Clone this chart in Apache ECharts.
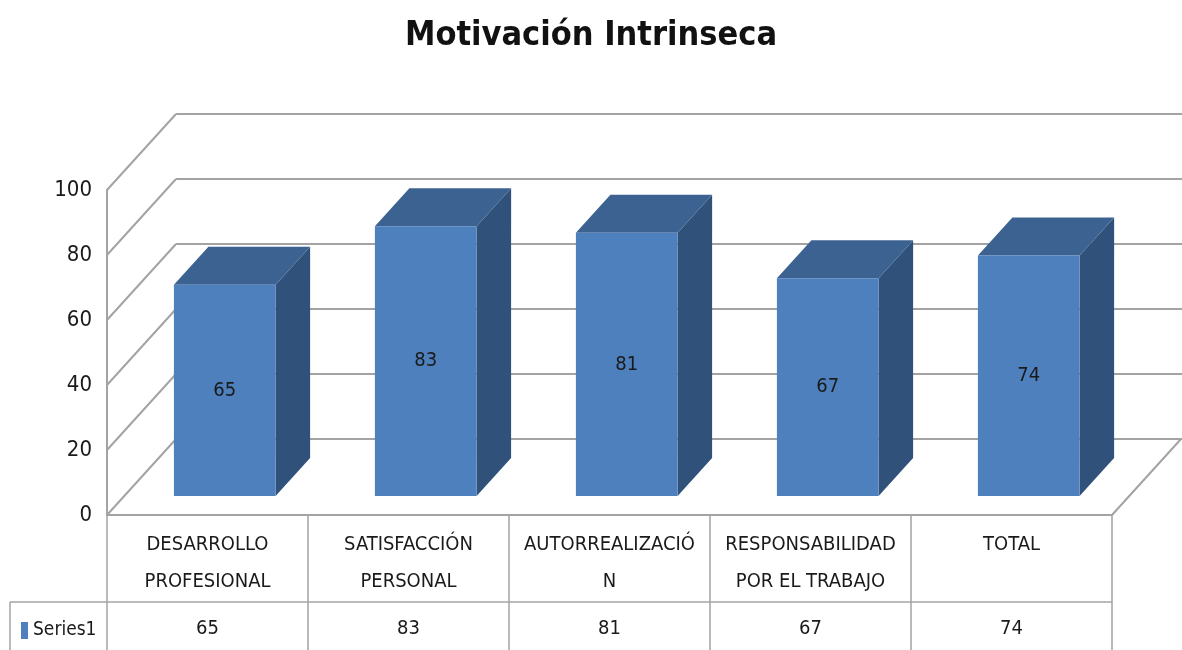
<!DOCTYPE html>
<html>
<head>
<meta charset="utf-8">
<script src="https://cdn.jsdelivr.net/npm/echarts@6/dist/echarts.min.js"></script>
<style>
  html, body { margin: 0; padding: 0; background: #fff; }
  #chart { width: 1182px; height: 650px; }
</style>
</head>
<body>
<div id="chart"></div>
<script>
// datos del grafico
const categories = ['DESARROLLO\nPROFESIONAL', 'SATISFACCIÓN\nPERSONAL', 'AUTORREALIZACIÓ\nN', 'RESPONSABILIDAD\nPOR EL TRABAJO', 'TOTAL'];
const values = [65, 83, 81, 67, 74];
const yTicks = [0, 20, 40, 60, 80, 100];
const seriesName = 'Series1';

const FONT = '"Liberation Sans Narrow", "DejaVu Sans Condensed", sans-serif';
const GRID_COLOR = '#a3a3a3';
// vector de profundidad (pared trasera)
const DEPTH = [69, -76];

let chart = echarts.init(document.getElementById('chart'));

// paredes y lineas de division en perspectiva
function renderWalls(params, api) {
  const cs = params.coordSys;
  const x0 = cs.x, x1 = cs.x + cs.width;
  const children = [];
  const line = (a, b) => children.push({
    type: 'polyline',
    shape: { points: [a, b] },
    style: { stroke: GRID_COLOR, lineWidth: 2, fill: null }
  });
  yTicks.forEach(function (v) {
    const y = api.coord([0, v])[1];
    const bx = x0 + DEPTH[0], by = y + DEPTH[1];
    line([x0, y], [bx, by]);
    line([bx, by], [1182, by]);
  });
  const y0 = api.coord([0, 0])[1];
  line([x1, y0], [x1 + DEPTH[0], y0 + DEPTH[1]]);
  return { type: 'group', children: children };
}

// barras 3D
function renderBar(params, api) {
  const idx = api.value(0);
  const val = api.value(1);
  const base = api.coord([idx, 0]);
  const top = api.coord([idx, val]);
  const band = api.size([1, 0])[0];
  const w = band * 0.506;
  const fx = DEPTH[0] * 0.25, fy = DEPTH[1] * 0.25;
  const dx = DEPTH[0] * 0.5, dy = DEPTH[1] * 0.5;
  const L = base[0] + fx - w / 2, R = L + w;
  const T = top[1] + fy, B = base[1] + fy;
  return {
    type: 'group',
    children: [
      { type: 'polygon', shape: { points: [[R, T], [R + dx, T + dy], [R + dx, B + dy], [R, B]] },
        style: { fill: '#30527a' } },
      { type: 'polygon', shape: { points: [[L, T], [R, T], [R + dx, T + dy], [L + dx, T + dy]] },
        style: { fill: '#3c6291' } },
      { type: 'rect', shape: { x: L, y: T, width: w, height: B - T },
        style: { fill: '#4e80bd' } },
      { type: 'text', x: (L + R) / 2, y: (T + B) / 2,
        style: { text: String(val), fill: '#1a1a1a', font: '20px ' + FONT, align: 'center', verticalAlign: 'middle' } }
    ]
  };
}

let option = {
  animation: false,
  color: ['#4e80bd'],
  title: {
    text: 'Motivación Intrinseca',
    left: 'center',
    top: 14,
    textStyle: { fontFamily: FONT, fontSize: 34, fontWeight: 'bold', color: '#111' }
  },
  legend: {
    data: [seriesName],
    left: 16,
    top: 616,
    icon: 'rect',
    itemWidth: 7,
    itemHeight: 17,
    itemGap: 4,
    textStyle: { fontFamily: FONT, fontSize: 19, color: '#1a1a1a' }
  },
  grid: { left: 107, right: 70, top: 190, bottom: 135 },
  xAxis: [
    {
      type: 'category',
      data: categories,
      position: 'bottom',
      boundaryGap: true,
      axisLine: { show: true, lineStyle: { color: GRID_COLOR, width: 2 } },
      axisTick: { show: true, length: 135, lineStyle: { color: GRID_COLOR, width: 1.5 } },
      axisLabel: { interval: 0, margin: 11, fontFamily: FONT, fontSize: 20, lineHeight: 37, color: '#1a1a1a' }
    },
    {
      type: 'category',
      data: values.map(String),
      position: 'bottom',
      boundaryGap: true,
      axisLine: { show: false },
      axisTick: { show: false },
      axisLabel: { interval: 0, margin: 104, fontFamily: FONT, fontSize: 20, color: '#1a1a1a' }
    }
  ],
  yAxis: {
    type: 'value',
    min: 0,
    max: 100,
    interval: 20,
    axisLine: { show: true, lineStyle: { color: GRID_COLOR, width: 2 } },
    axisTick: { show: false },
    splitLine: { show: false },
    axisLabel: { margin: 15, padding: [8, 0, 0, 0], fontFamily: FONT, fontSize: 22, color: '#1a1a1a' }
  },
  graphic: [
    { type: 'line', shape: { x1: 10, y1: 602, x2: 1112, y2: 602 }, style: { stroke: GRID_COLOR, lineWidth: 1.5 } },
    { type: 'line', shape: { x1: 10, y1: 602, x2: 10, y2: 650 }, style: { stroke: GRID_COLOR, lineWidth: 1.5 } }
  ],
  series: [
    {
      type: 'custom',
      name: 'walls',
      renderItem: renderWalls,
      data: [[0, 0]],
      silent: true,
      z: 1
    },
    {
      type: 'custom',
      name: seriesName,
      renderItem: renderBar,
      data: values.map((v, i) => [i, v]),
      encode: { x: 0, y: 1 },
      z: 2
    }
  ]
};

chart.setOption(option);
</script>
</body>
</html>
